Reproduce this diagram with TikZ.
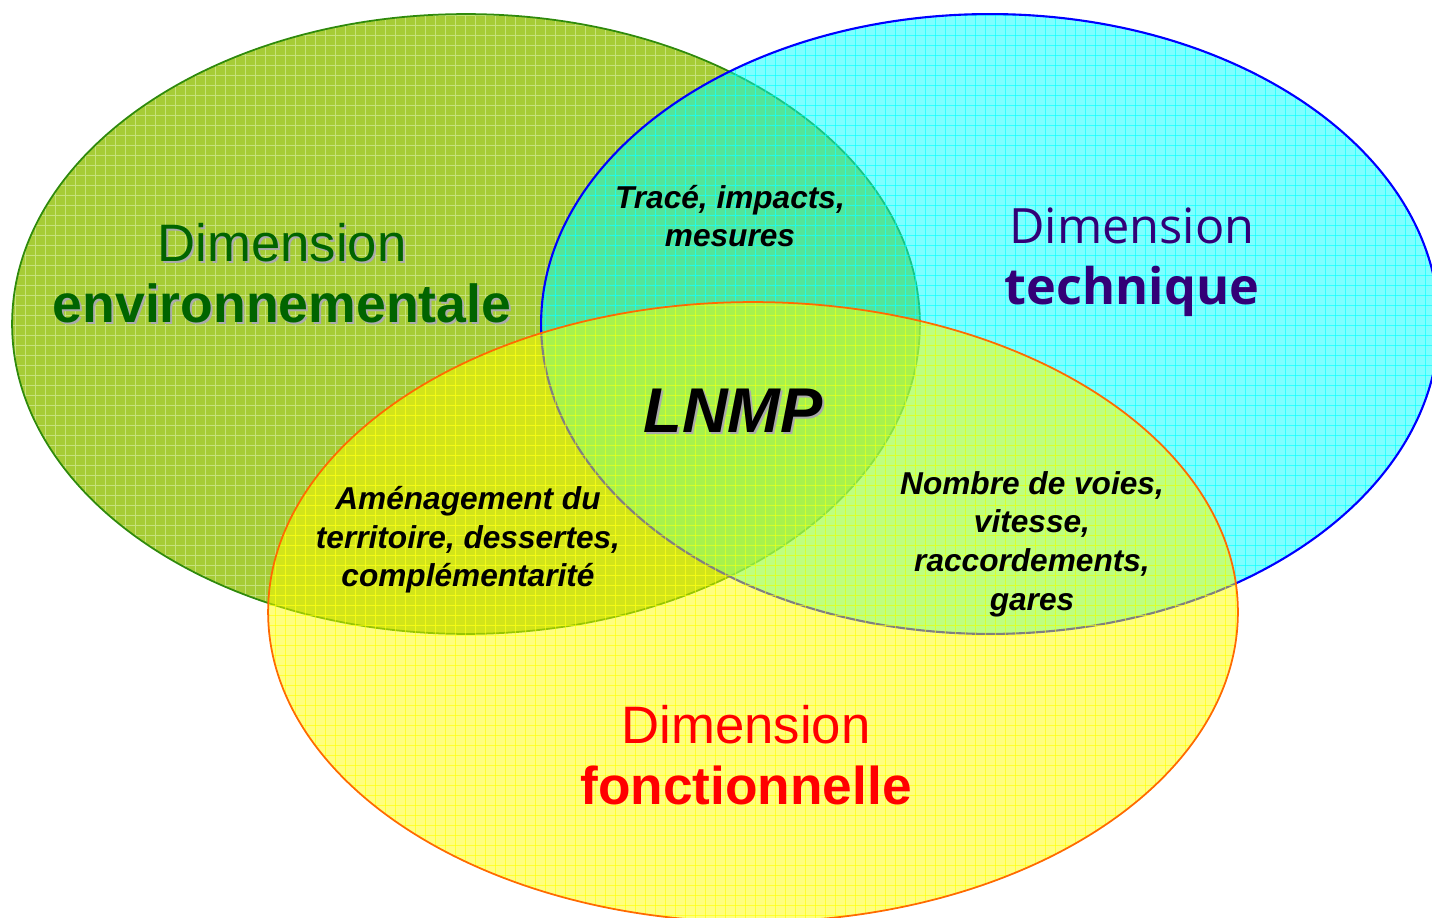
\documentclass[tikz,border=0pt]{standalone}
\usepackage{fontspec}
\setmainfont{Liberation Sans}
\newfontfamily\techfont{Open Sans}
\usetikzlibrary{positioning}
\definecolor{envfill}{HTML}{A6CC36}
\definecolor{envgrid}{HTML}{C6E27A}
\definecolor{envline}{HTML}{2F8A0C}
\definecolor{envink}{HTML}{006400}
\definecolor{techfill}{HTML}{00FFFF}
\definecolor{techline}{HTML}{0000FF}
\definecolor{techink}{HTML}{330077}
\definecolor{foncfill}{HTML}{FFFF00}
\definecolor{foncline}{HTML}{FF6A00}
\definecolor{foncink}{HTML}{FF0000}
\definecolor{shadowgray}{HTML}{AAAAAA}
% the three sets, in pixel units (x=0.02cm)
\newcommand{\envshape}{(466,324) ellipse [x radius=9.08cm, y radius=6.2cm]}
\newcommand{\techshape}{(990,324) ellipse [x radius=8.98cm, y radius=6.2cm]}
\newcommand{\foncshape}{(753,612) ellipse [x radius=9.7cm, y radius=6.2cm]}
\newcommand{\paperlines}[1]{%
\foreach \g in {5,15,...,1435}{\draw[#1] (\g,0)--(\g,918);}
\foreach \g in {5,15,...,915}{\draw[#1] (0,\g)--(1432,\g);}}
\tikzset{
  dimlabel/.style={align=center,inner sep=0pt},
  zonelabel/.style={align=center,inner sep=0pt,font=\fontsize{18}{22}\selectfont\bfseries\itshape},
  gridline/.style={line width=.35pt}
}
\begin{document}
\begin{tikzpicture}[x=0.02cm,y=-0.02cm]
\useasboundingbox (0,0) rectangle (1432,918);
% environnementale
\fill[envfill] \envshape;
\begin{scope}\clip \envshape; \paperlines{gridline,envgrid} \end{scope}
\draw[envline,line width=1pt] \envshape;
% technique
\fill[techfill,opacity=.5] \techshape;
\begin{scope}\clip \techshape; \paperlines{gridline,techfill,opacity=.6} \end{scope}
\draw[techline,line width=1.2pt] \techshape;
% fonctionnelle
\fill[foncfill,opacity=.5] \foncshape;
\begin{scope}\clip \foncshape; \paperlines{gridline,foncfill,opacity=.6} \end{scope}
\draw[foncline,line width=1pt] \foncshape;
% labels
\node[dimlabel,text=shadowgray,font=\fontsize{30}{35}\selectfont] (envshadow) at (284,275) {Dimension\\{\fontsize{30.5}{35}\selectfont\bfseries environnementale}};
\node[dimlabel,text=envink,font=\fontsize{30}{35}\selectfont] (envlabel) at (282,273) {Dimension\\{\fontsize{30.5}{35}\selectfont\bfseries environnementale}};
\node[dimlabel,text=techink,font=\techfont\fontsize{27.7}{35}\selectfont] (techlabel) at (1132,262) {Dimension\\{\fontsize{28.7}{35}\selectfont\bfseries technique}};
\node[dimlabel,text=foncink,font=\fontsize{30}{35}\selectfont] (fonclabel) at (746,755) {Dimension\\{\fontsize{30.3}{35}\selectfont\bfseries fonctionnelle}};
\node[inner sep=0pt,anchor=base,text=shadowgray,font=\fontsize{36}{40}\selectfont\bfseries\itshape] (lnmpshadow) at (735,434) {LNMP};
\node[inner sep=0pt,anchor=base,font=\fontsize{36}{40}\selectfont\bfseries\itshape] (lnmp) at (733,432) {LNMP};
\node[zonelabel] (envtech) at (730,216) {Tracé, impacts,\\mesures};
\node[zonelabel] (envfonc) at (468,540) {Aménagement du\\territoire, dessertes,\\complémentarité};
\node[zonelabel] (techfonc) at (1032,544) {Nombre de voies,\\vitesse,\\raccordements,\\gares};
\end{tikzpicture}
\end{document}
